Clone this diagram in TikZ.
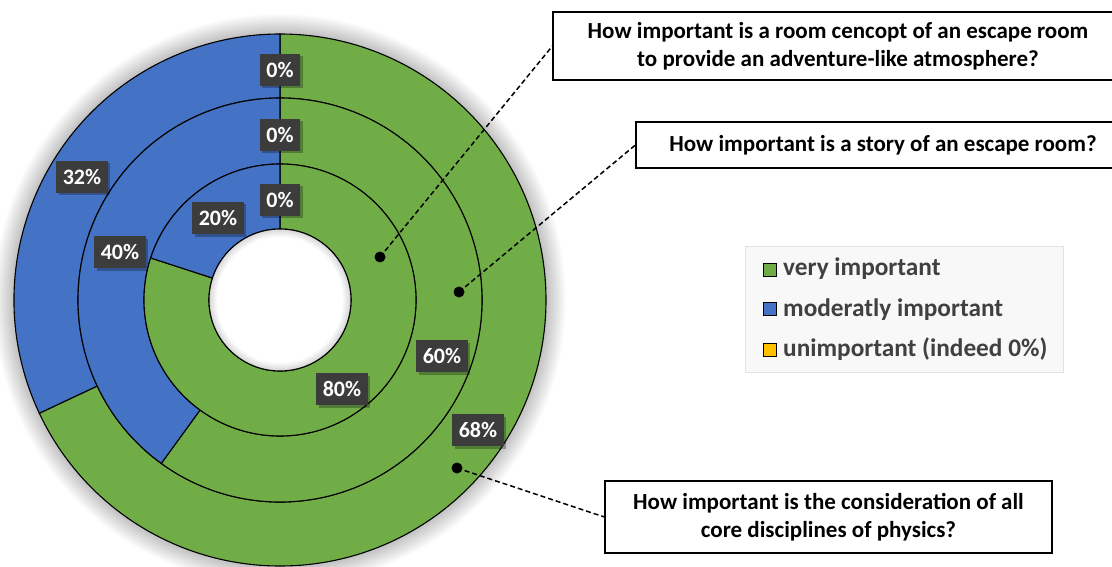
\documentclass[tikz,border=0pt]{standalone}
\usepackage{fontspec}
\setmainfont{Carlito}
\usetikzlibrary{shadows}
\definecolor{vgreen}{HTML}{70AD47}
\definecolor{mblue}{HTML}{4472C4}
\definecolor{uyellow}{HTML}{FFC000}
\definecolor{lblgray}{HTML}{3C3C3C}
\definecolor{legtext}{HTML}{404040}
\definecolor{legfill}{HTML}{F8F8F8}
\definecolor{legdraw}{HTML}{E2E2E2}
\newcommand{\annsec}[5]{%
  \filldraw[fill=#1, draw=black, line width=1.1pt]
    (#4:#3) arc[start angle=#4, end angle=#5, radius=#3]
    -- (#5:#2) arc[start angle=#5, end angle=#4, radius=#2] -- cycle;}
\begin{document}
\begin{tikzpicture}[x=1pt,y=1pt,
  pct/.style={fill=lblgray, text=white, font=\fontsize{22}{24}\selectfont\bfseries,
    minimum height=32pt, inner xsep=6.5pt, inner ysep=0pt,
    drop shadow={shadow xshift=2.5pt, shadow yshift=-2.5pt, opacity=0.28, fill=black}},
  qbox/.style={draw=black, line width=1.2pt, fill=white, align=center,
    font=\fontsize{23}{28}\selectfont\bfseries, inner sep=0pt},
  leader/.style={draw=black, line width=1.5pt, dash pattern=on 5pt off 3pt},
  dotmark/.style={fill=black},
  legsq/.style={draw=black, line width=0.8pt, minimum size=13.5pt, inner sep=0pt},
  legtxt/.style={text=legtext, font=\fontsize{25.3}{28}\selectfont\bfseries, inner sep=0pt, anchor=base west}]
\useasboundingbox (0,0) rectangle (1112,-567);
\clip (0,0) rectangle (1112,-567);
\fill[white] (0,0) rectangle (1112,-567);
% ---- donut ----
\begin{scope}[shift={(280,-300)}]
  \foreach \i in {1,...,16} {\fill[black, opacity=0.017] (0,0) circle ({265+1.3*\i});}
  \annsec{vgreen}{202}{266}{90}{-154.8}
  \annsec{mblue}{202}{266}{-154.8}{-270}
  \annsec{vgreen}{136}{202}{90}{-126}
  \annsec{mblue}{136}{202}{-126}{-270}
  \annsec{vgreen}{71}{136}{90}{-198}
  \annsec{mblue}{71}{136}{-198}{-270}
  \fill[white] (0,0) circle (71);
  \begin{scope}
    \clip (0,0) circle (71);
    \foreach \i in {1,...,8} {\draw[black, opacity=0.02, line width={2*\i}] (0,0) circle (71);}
  \end{scope}
  \draw[black, line width=1.1pt] (0,0) circle (71);
\end{scope}
% ---- percentage labels ----
\node[pct] (po) at (280,-70) {0\%};
\node[pct] (pm) at (280,-135) {0\%};
\node[pct] (pi) at (280,-200) {0\%};
\node[pct] (pb3) at (82,-177) {32\%};
\node[pct] (pb2) at (120,-252) {40\%};
\node[pct] (pb1) at (218,-218) {20\%};
\node[pct] (pg1) at (342,-389) {80\%};
\node[pct] (pg2) at (442,-356) {60\%};
\node[pct] (pg3) at (478,-430) {68\%};
% ---- question boxes ----
\node[qbox, minimum width=570pt, minimum height=68pt] (q1) at (838,-46)
  {How important is a room cencopt of an escape room\\to provide an adventure-like atmosphere?};
\node[qbox, minimum width=494pt, minimum height=46pt] (q2) at (883,-145)
  {How important is a story of an escape room?};
\node[qbox, minimum width=447pt, minimum height=72pt] (q3) at (828.5,-517)
  {How important is the consideration of all\\core disciplines of physics?};
% ---- leaders ----
\coordinate (d1) at (380,-257);
\coordinate (d2) at (459,-292);
\coordinate (d3) at (457,-468);
\draw[leader] (d1) -- (q1.west);
\draw[leader] (d2) -- (q2.west);
\draw[leader] (d3) -- (q3.west);
\fill[dotmark] (d1) circle (5.5);
\fill[dotmark] (d2) circle (5.5);
\fill[dotmark] (d3) circle (5.5);
% ---- legend ----
\node[draw=legdraw, fill=legfill, line width=1pt, minimum width=318pt, minimum height=126pt] (leg) at (904,-309) {};
\node[legsq, fill=vgreen] (s1) at (770,-270) {};
\node[legsq, fill=mblue] (s2) at (770,-309) {};
\node[legsq, fill=uyellow] (s3) at (770,-350) {};
\node[legtxt] (t1) at (783,-275) {very important};
\node[legtxt] (t2) at (783,-316.7) {moderatly important};
\node[legtxt] (t3) at (783,-356.7) {unimportant (indeed 0\%)};
\end{tikzpicture}
\end{document}
